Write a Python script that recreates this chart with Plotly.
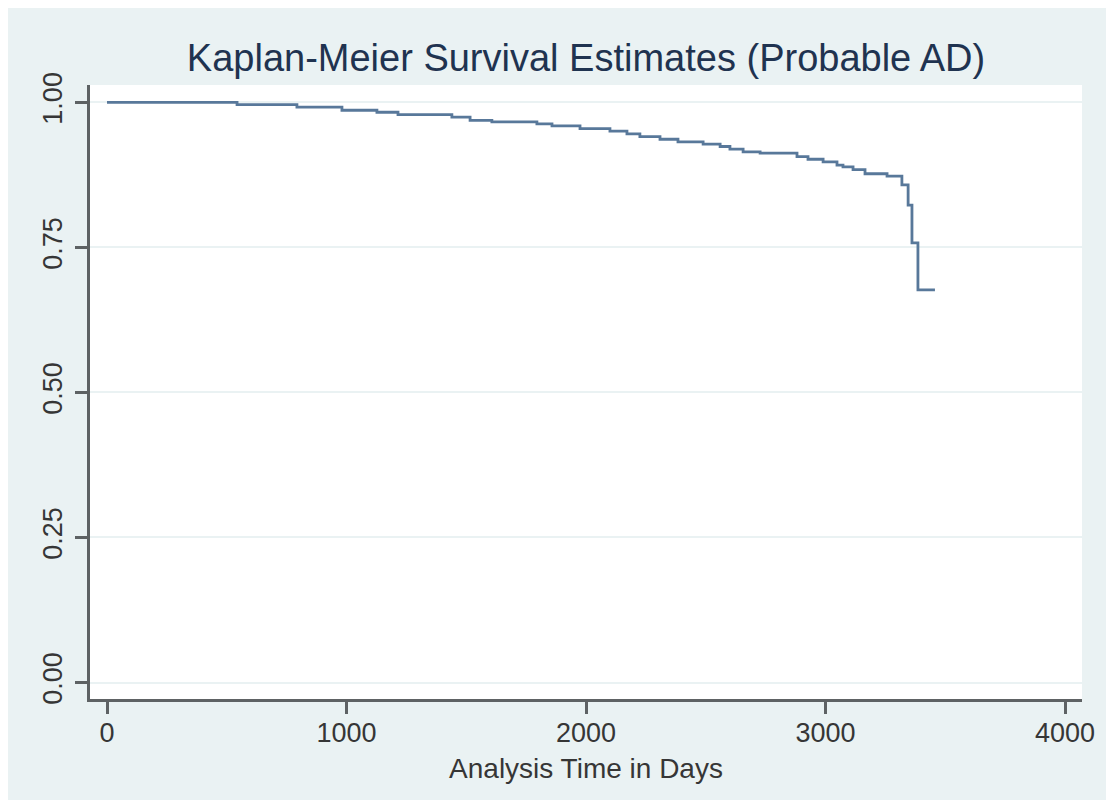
import plotly.graph_objects as go

# Kaplan-Meier step data (analysis time in days, survival probability)
times = [0, 543, 793, 981, 1127, 1215, 1440, 1516, 1607, 1795, 1858, 1975, 2100,
         2171, 2225, 2309, 2384, 2489, 2560, 2601, 2656, 2727, 2881, 2927, 2990,
         3048, 3073, 3115, 3165, 3257, 3319, 3345, 3361, 3386, 3457]
survival = [1.0, 0.9962, 0.9917, 0.9865, 0.983, 0.979, 0.9745, 0.969, 0.9664, 0.963,
            0.9595, 0.9548, 0.9504, 0.9457, 0.941, 0.9365, 0.932, 0.928, 0.924, 0.9195,
            0.9147, 0.9125, 0.9066, 0.902, 0.8975, 0.892, 0.889, 0.884, 0.877, 0.873,
            0.858, 0.823, 0.758, 0.677, 0.677]

x_ticks = [0, 1000, 2000, 3000, 4000]
x_tick_labels = ["0", "1000", "2000", "3000", "4000"]
y_ticks = [0.0, 0.25, 0.5, 0.75, 1.0]
y_tick_labels = ["0.00", "0.25", "0.50", "0.75", "1.00"]

title_text = "Kaplan-Meier Survival Estimates (Probable AD)"
x_title = "Analysis Time in Days"

FONT = "Liberation Sans Narrow, Arial Narrow, Liberation Sans, Arial, sans-serif"
BG = "#eaf2f3"
AXIS = "#5e6264"

# page body adds an 8px offset; figure sized to fill the rest of the window
OFF = 8
W, H = 1106, 797
ML, MR, MT, MB = 82, 32, 77, 106
PW, PH = W - ML - MR, H - MT - MB
PLOT_LEFT, PLOT_BOTTOM = OFF + ML, OFF + H - MB


def xp(px):
    return (px - PLOT_LEFT) / PW


def yp(py):
    return (PLOT_BOTTOM - py) / PH


fig = go.Figure()
fig.add_trace(go.Scatter(
    x=times, y=survival, mode="lines",
    line=dict(shape="hv", color="#58789a", width=2.8),
    showlegend=False, hoverinfo="x+y",
))

fig.update_layout(
    width=W, height=H, autosize=False,
    margin=dict(l=ML, r=MR, t=MT, b=MB, pad=0),
    paper_bgcolor=BG,
    plot_bgcolor="white",
    title=dict(text=title_text, x=0.5, xanchor="center", y=1 - 50 / H, yanchor="middle",
               yref="container", xref="paper",
               font=dict(family=FONT, size=38, color="#1f3350")),
    xaxis=dict(
        range=[-71, 4071], tickvals=x_ticks, ticktext=x_tick_labels,
        showgrid=False, zeroline=False,
        showline=True, linecolor=AXIS, linewidth=2.5,
        ticks="outside", ticklen=12, tickwidth=2.5, tickcolor=AXIS,
        ticklabelstandoff=-4,
        tickfont=dict(family=FONT, size=27, color="#363636"),
        title=dict(text=x_title, standoff=12,
                   font=dict(family=FONT, size=28, color="#363636")),
    ),
    yaxis=dict(
        range=[-0.0284, 1.030], tickvals=y_ticks, ticktext=y_tick_labels,
        showgrid=True, gridcolor=BG, gridwidth=2, zeroline=False,
        showline=True, linecolor=AXIS, linewidth=2.5,
        ticks="outside", ticklen=12, tickwidth=2.5, tickcolor=AXIS,
        tickangle=-90, ticklabelstandoff=2,
        tickfont=dict(family=FONT, size=27, color="#363636"),
    ),
    shapes=[
        # thin white strips at right and bottom edges of the image
        dict(type="rect", xref="paper", yref="paper",
             x0=xp(1112), x1=xp(1125), y0=yp(815), y1=yp(0),
             fillcolor="white", line=dict(width=0), layer="above"),
        dict(type="rect", xref="paper", yref="paper",
             x0=xp(0), x1=xp(1125), y0=yp(815), y1=yp(800),
             fillcolor="white", line=dict(width=0), layer="above"),
    ],
)

fig.write_html("out.html")
